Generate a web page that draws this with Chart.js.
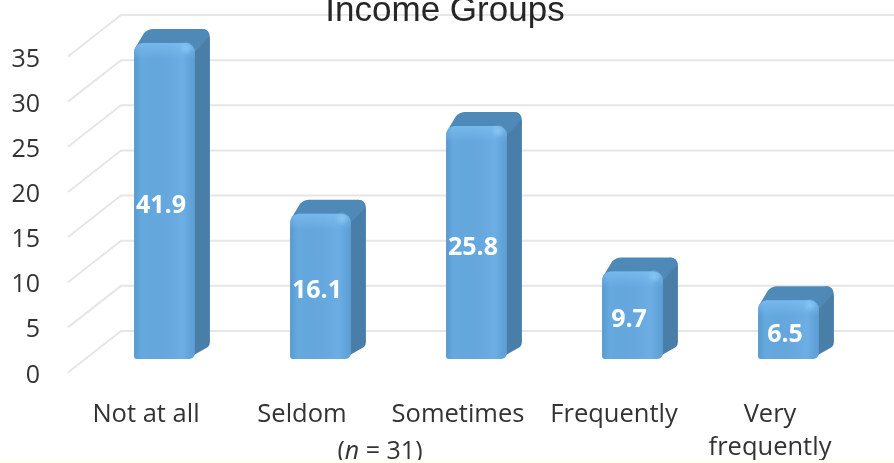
<!DOCTYPE html>
<html>
<head>
<meta charset="utf-8">
<title>Income Groups</title>
<script src="https://cdn.jsdelivr.net/npm/chart.js@4/dist/chart.umd.min.js"></script>
<style>
  html, body { margin: 0; padding: 0; background: #fff; overflow: hidden; }
  #wrap { position: relative; width: 894px; height: 463px; }
  #sample {
    position: absolute; left: 280px; width: 200px; top: 434px; text-align: center;
    font: 25px "Open Sans", sans-serif; color: #333; line-height: 30px;
  }
  #strip { position: absolute; left: 0; right: 0; top: 460px; height: 3px; background: #fffff2; }
</style>
</head>
<body>
<div id="wrap">
  <canvas id="chart" width="894" height="463"></canvas>
  <div id="sample">(<i>n</i> = 31)</div>
  <div id="strip"></div>
</div>
<script>
const categories = ["Not at all", "Seldom", "Sometimes", "Frequently", ["Very", "frequently"]];
const percentages = [41.9, 16.1, 25.8, 9.7, 6.5];
const axisMin = 0;
const axisMax = 35;
const axisStep = 5;

const textColor = "#333333";
const shiftX = 18.5;   // bars stand further in than the axis labels
const shiftY = -16.5;
const depthX = 15;
const depthY = 14;
const wallX = 53;
const wallY = -44.5;
const floorLift = -3;

function barBox(el) {
  return { left: el.x - el.width / 2, right: el.x + el.width / 2, top: el.y, bottom: el.base };
}

// outline of the back of the box plus the faces joining it to the front
function drawDepth(ctx, box) {
  const { left, right, top, bottom } = box;
  ctx.fillStyle = "#497ea9";
  ctx.beginPath();
  ctx.moveTo(right - 8, bottom);
  ctx.lineTo(right + depthX - 2, bottom - depthY + 2);
  ctx.quadraticCurveTo(right + depthX, bottom - depthY, right + depthX, bottom - depthY - 3);
  ctx.lineTo(right + depthX, top - depthY + 9);
  ctx.quadraticCurveTo(right + depthX, top - depthY, right + depthX - 8, top - depthY);
  ctx.lineTo(right - 8, top);
  ctx.closePath();
  ctx.fill();

  ctx.fillStyle = "#4f89b8";
  ctx.beginPath();
  ctx.moveTo(left + 1, top + 5);
  ctx.lineTo(left + depthX - 5, top - depthY + 4);
  ctx.quadraticCurveTo(left + depthX - 1, top - depthY, left + depthX + 4, top - depthY);
  ctx.lineTo(right + depthX - 8, top - depthY);
  ctx.quadraticCurveTo(right + depthX - 1, top - depthY, right + depthX - 1, top - depthY + 8);
  ctx.lineTo(right + 1, top + 8);
  ctx.closePath();
  ctx.fill();
}

// soft shading on the front face
function drawBevel(ctx, box) {
  const { left, right, top, bottom } = box;
  const w = right - left;
  const h = bottom - top;

  const across = ctx.createLinearGradient(left, 0, right, 0);
  across.addColorStop(0, "rgba(70,135,190,0.45)");
  across.addColorStop(0.12, "rgba(70,135,190,0)");
  across.addColorStop(0.8, "rgba(120,185,235,0.35)");
  across.addColorStop(1, "rgba(70,135,190,0.35)");
  ctx.fillStyle = across;
  ctx.beginPath();
  ctx.roundRect(left, top, w, h, [9, 9, 6, 3]);
  ctx.fill();

  const down = ctx.createLinearGradient(0, top, 0, top + 16);
  down.addColorStop(0, "rgba(125,190,240,0.75)");
  down.addColorStop(1, "rgba(125,190,240,0)");
  ctx.fillStyle = down;
  ctx.beginPath();
  ctx.roundRect(left, top, w, Math.min(16, h), [9, 9, 0, 0]);
  ctx.fill();

  const spot = ctx.createRadialGradient(right - 9, top + 5, 0, right - 9, top + 5, 7);
  spot.addColorStop(0, "rgba(135,200,245,0.9)");
  spot.addColorStop(1, "rgba(135,200,245,0)");
  ctx.fillStyle = spot;
  ctx.fillRect(right - 16, top - 2, 14, 14);
}

const perspectivePlugin = {
  id: "perspective",
  afterDatasetsUpdate(chart) {
    // values above the axis maximum stop at the top of the plot
    const area = chart.chartArea;
    chart.getDatasetMeta(0).data.forEach((el) => {
      if (el.y < area.top) el.y = area.top;
    });
  },
  // before the title, so the top wall line stays behind its text
  beforeDraw(chart) {
    const { ctx } = chart;
    const y = chart.scales.y;
    const area = chart.chartArea;
    ctx.save();
    ctx.strokeStyle = "#e6e6e6";
    ctx.lineWidth = 2;
    y.ticks.forEach((tick) => {
      const py = y.getPixelForValue(tick.value);
      ctx.beginPath();
      ctx.moveTo(area.left, py + floorLift);
      ctx.lineTo(area.left + wallX, py + wallY);
      ctx.lineTo(chart.width, py + wallY);
      ctx.stroke();
    });
    ctx.restore();
  },
  beforeDatasetDraw(chart) {
    const { ctx } = chart;
    ctx.save();
    ctx.translate(shiftX, shiftY);
    chart.getDatasetMeta(0).data.forEach((el) => drawDepth(ctx, barBox(el)));
  },
  afterDatasetDraw(chart) {
    const { ctx } = chart;
    chart.getDatasetMeta(0).data.forEach((el) => drawBevel(ctx, barBox(el)));
    ctx.restore();
  },
  afterDatasetsDraw(chart) {
    const { ctx } = chart;
    ctx.save();
    ctx.fillStyle = "#ffffff";
    ctx.font = 'bold 25px "Open Sans", sans-serif';
    ctx.textAlign = "center";
    ctx.textBaseline = "middle";
    chart.getDatasetMeta(0).data.forEach((el, i) => {
      const midY = (el.y + el.base) / 2;
      ctx.fillText(percentages[i].toFixed(1), el.x + shiftX - 3.5, midY + shiftY + 5);
    });
    ctx.restore();
  }
};

new Chart(document.getElementById("chart"), {
  type: "bar",
  data: {
    labels: categories,
    datasets: [
      {
        data: percentages,
        backgroundColor: "#66a9df",
        borderWidth: 0,
        borderSkipped: false,
        borderRadius: { topLeft: 9, topRight: 9, bottomLeft: 3, bottomRight: 6 },
        categoryPercentage: 1,
        barPercentage: 0.39
      }
    ]
  },
  plugins: [perspectivePlugin],
  options: {
    responsive: false,
    animation: false,
    layout: { padding: { right: 4 } },
    plugins: {
      legend: { display: false },
      tooltip: { enabled: false },
      title: {
        display: true,
        text: "Income Groups",
        color: "#262626",
        font: { family: '"Liberation Sans", sans-serif', size: 35, weight: "normal", lineHeight: 1.2 },
        padding: { top: -10, bottom: 27.5 }
      }
    },
    scales: {
      x: {
        grid: { display: false },
        border: { display: false },
        afterFit(scale) { scale.height = 87.5; },
        ticks: {
          color: textColor,
          maxRotation: 0,
          autoSkip: false,
          padding: 15,
          font: { family: '"Open Sans", sans-serif', size: 25.5, lineHeight: 1.3 }
        }
      },
      y: {
        min: axisMin,
        max: axisMax,
        grid: { display: false },
        border: { display: false },
        afterFit(scale) { scale.width = 68; },
        ticks: {
          stepSize: axisStep,
          color: textColor,
          padding: 20,
          font: { family: '"Open Sans", sans-serif', size: 25 }
        }
      },
      // empty right-hand axis keeps the title centred while the plot ends short of the edge
      spacer: {
        position: "right",
        grid: { display: false },
        border: { display: false },
        ticks: { display: false },
        afterFit(scale) { scale.width = 42; }
      }
    }
  }
});
</script>
</body>
</html>
